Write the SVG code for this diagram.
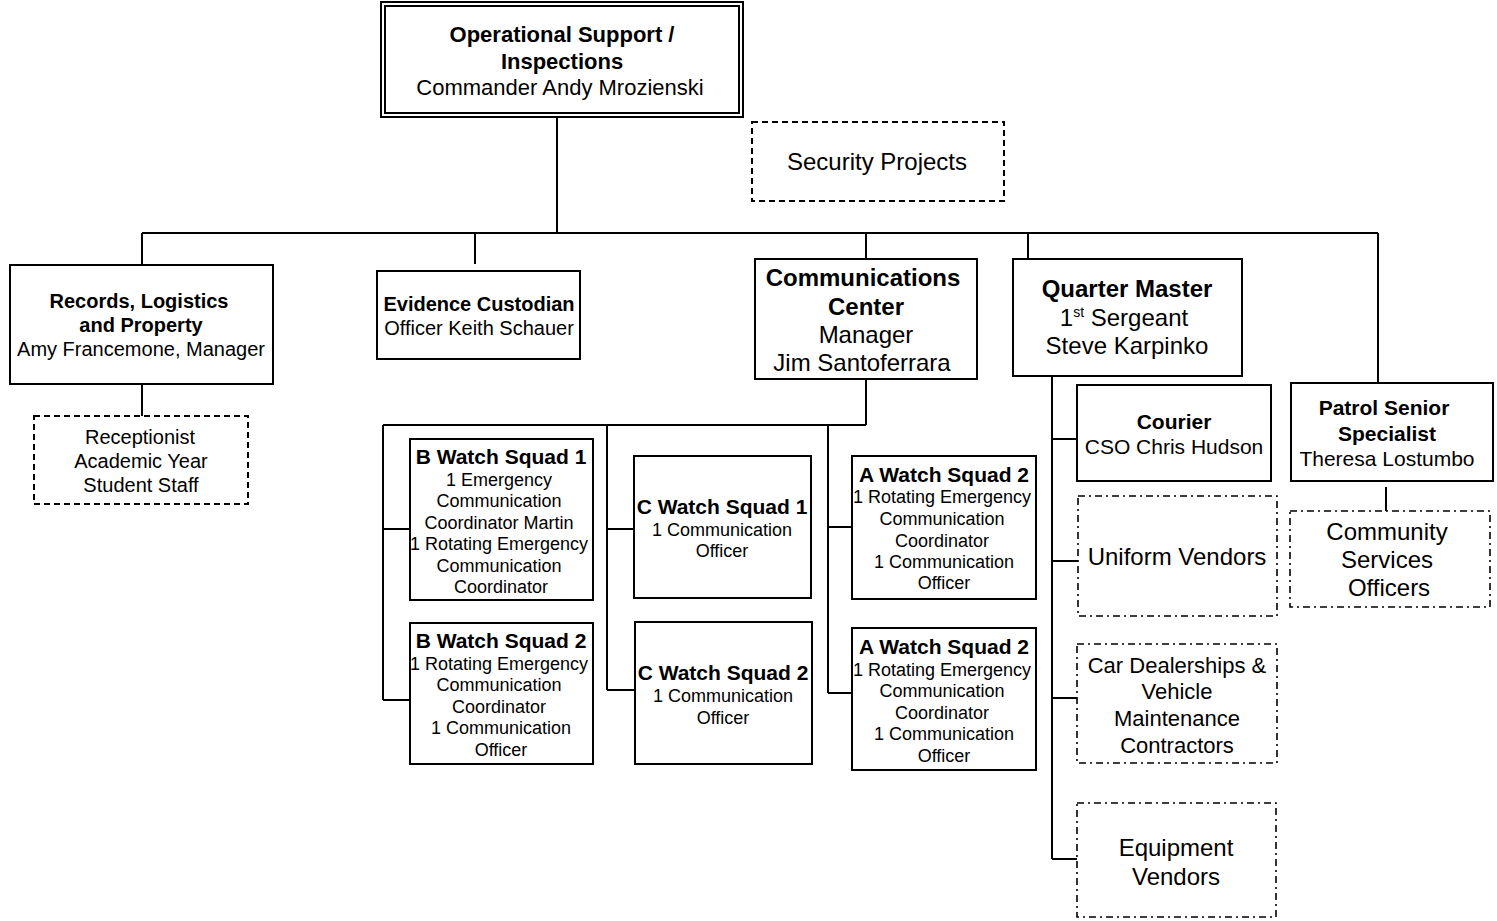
<svg xmlns="http://www.w3.org/2000/svg" width="1497" height="921" viewBox="0 0 1497 921">
<style>
text { font-family: "Liberation Sans", Arial, sans-serif; fill: #000; text-anchor: middle; }
.b { font-weight: bold; }
.box { fill: #fff; stroke: #000; stroke-width: 2; }
.dash { fill: #fff; stroke: #000; stroke-width: 2; stroke-dasharray: 6 4; }
.dd { fill: #fff; stroke: #000; stroke-width: 1.6; stroke-dasharray: 7 4 2 4; }
.c { fill: none; stroke: #000; stroke-width: 2; }
.f18 { font-size: 18px; }
.f20 { font-size: 20px; }
.f21 { font-size: 21px; }
.f22 { font-size: 22px; }
.f24 { font-size: 24px; }
</style>
<rect width="1497" height="921" fill="#fff"/>
<g id="connectors">
<path class="c" d="M557 117 V233 M142 233 H1378 M142 233 V265 M475 233 V264 M866 233 V259 M1028 233 V259 M1378 233 V383"/>
<path class="c" d="M142 384 V416"/>
<path class="c" d="M866 379 V425 M383 425 H866 M383 425 V700 M383 529 H410 M383 700 H410"/>
<path class="c" d="M607 425 V690 M607 529 H634 M607 690 H635"/>
<path class="c" d="M828 425 V693 M828 527 H852 M828 693 H852"/>
<path class="c" d="M1052 376 V859 M1052 439 H1077 M1052 561 H1078 M1052 698 H1077 M1052 859 H1077"/>
<path class="c" d="M1386 487 V513"/>
</g>
<g id="node-top">
<rect x="381" y="2" width="362" height="115" fill="#fff" stroke="#000" stroke-width="2"/>
<rect x="385" y="6" width="354" height="107" fill="none" stroke="#000" stroke-width="2"/>
<text class="b f22" x="562" y="42">Operational Support /</text>
<text class="b f22" x="562" y="69">Inspections</text>
<text class="f22" x="560" y="95">Commander Andy Mrozienski</text>
</g>
<g id="node-security">
<rect class="dash" x="752" y="122" width="252" height="79"/>
<text class="f24" x="877" y="170">Security Projects</text>
</g>
<g id="node-records">
<rect class="box" x="10" y="265" width="263" height="119"/>
<text class="b f20" x="139" y="308">Records, Logistics</text>
<text class="b f20" x="141" y="332">and Property</text>
<text class="f20" x="141" y="356">Amy Francemone, Manager</text>
</g>
<g id="node-receptionist">
<rect class="dash" x="34" y="416" width="214" height="88"/>
<text class="f20" x="140" y="444">Receptionist</text>
<text class="f20" x="141" y="468">Academic Year</text>
<text class="f20" x="141" y="492">Student Staff</text>
</g>
<g id="node-evidence">
<rect class="box" x="377" y="271" width="203" height="88"/>
<text class="b f20" x="479" y="311">Evidence Custodian</text>
<text class="f20" x="479" y="335">Officer Keith Schauer</text>
</g>
<g id="node-comm">
<rect class="box" x="755" y="259" width="222" height="120"/>
<text class="b f24" x="863" y="286">Communications</text>
<text class="b f24" x="866" y="315">Center</text>
<text class="f24" x="866" y="343">Manager</text>
<text class="f24" x="862" y="371">Jim Santoferrara</text>
</g>
<g id="node-b1">
<rect class="box" x="410" y="439" width="183" height="161"/>
<text class="b f21" x="501" y="464">B Watch Squad 1</text>
<text class="f18" x="499" y="486">1 Emergency</text>
<text class="f18" x="499" y="507">Communication</text>
<text class="f18" x="499" y="529">Coordinator Martin</text>
<text class="f18" x="499" y="550">1 Rotating Emergency</text>
<text class="f18" x="499" y="572">Communication</text>
<text class="f18" x="501" y="593">Coordinator</text>
</g>
<g id="node-b2">
<rect class="box" x="410" y="623" width="183" height="141"/>
<text class="b f21" x="501" y="648">B Watch Squad 2</text>
<text class="f18" x="499" y="670">1 Rotating Emergency</text>
<text class="f18" x="499" y="691">Communication</text>
<text class="f18" x="499" y="713">Coordinator</text>
<text class="f18" x="501" y="734">1 Communication</text>
<text class="f18" x="501" y="756">Officer</text>
</g>
<g id="node-c1">
<rect class="box" x="634" y="456" width="177" height="142"/>
<text class="b f21" x="722" y="514">C Watch Squad 1</text>
<text class="f18" x="722" y="536">1 Communication</text>
<text class="f18" x="722" y="557">Officer</text>
</g>
<g id="node-c2">
<rect class="box" x="635" y="622" width="177" height="142"/>
<text class="b f21" x="723" y="680">C Watch Squad 2</text>
<text class="f18" x="723" y="702">1 Communication</text>
<text class="f18" x="723" y="724">Officer</text>
</g>
<g id="node-a1">
<rect class="box" x="852" y="456" width="184" height="143"/>
<text class="b f21" x="944" y="482">A Watch Squad 2</text>
<text class="f18" x="942" y="503">1 Rotating Emergency</text>
<text class="f18" x="942" y="525">Communication</text>
<text class="f18" x="942" y="547">Coordinator</text>
<text class="f18" x="944" y="568">1 Communication</text>
<text class="f18" x="944" y="589">Officer</text>
</g>
<g id="node-a2">
<rect class="box" x="852" y="628" width="184" height="142"/>
<text class="b f21" x="944" y="654">A Watch Squad 2</text>
<text class="f18" x="942" y="676">1 Rotating Emergency</text>
<text class="f18" x="942" y="697">Communication</text>
<text class="f18" x="942" y="719">Coordinator</text>
<text class="f18" x="944" y="740">1 Communication</text>
<text class="f18" x="944" y="762">Officer</text>
</g>
<g id="node-qm">
<rect class="box" x="1013" y="259" width="229" height="117"/>
<text class="b f24" x="1127" y="297">Quarter Master</text>
<text class="f24" x="1124" y="326">1<tspan font-size="14" dy="-9">st</tspan><tspan dy="9"> Sergeant</tspan></text>
<text class="f24" x="1127" y="354">Steve Karpinko</text>
</g>
<g id="node-courier">
<rect class="box" x="1077" y="385" width="194" height="96"/>
<text class="b f21" x="1174" y="429">Courier</text>
<text class="f21" x="1174" y="454">CSO Chris Hudson</text>
</g>
<g id="node-uniform">
<rect class="dd" x="1078" y="496" width="199" height="120"/>
<text class="f24" x="1177" y="565">Uniform Vendors</text>
</g>
<g id="node-car">
<rect class="dd" x="1077" y="644" width="200" height="119"/>
<text class="f22" x="1177" y="673">Car Dealerships &amp;</text>
<text class="f22" x="1177" y="699">Vehicle</text>
<text class="f22" x="1177" y="726">Maintenance</text>
<text class="f22" x="1177" y="753">Contractors</text>
</g>
<g id="node-equipment">
<rect class="dd" x="1077" y="803" width="199" height="114"/>
<text class="f24" x="1176" y="856">Equipment</text>
<text class="f24" x="1176" y="885">Vendors</text>
</g>
<g id="node-patrol">
<rect class="box" x="1291" y="383" width="202" height="98"/>
<text class="b f21" x="1384" y="415">Patrol Senior</text>
<text class="b f21" x="1387" y="441">Specialist</text>
<text class="f21" x="1387" y="466">Theresa Lostumbo</text>
</g>
<g id="node-cso">
<rect class="dd" x="1290" y="511" width="200" height="96"/>
<text class="f24" x="1387" y="540">Community</text>
<text class="f24" x="1387" y="568">Services</text>
<text class="f24" x="1389" y="596">Officers</text>
</g>
</svg>
